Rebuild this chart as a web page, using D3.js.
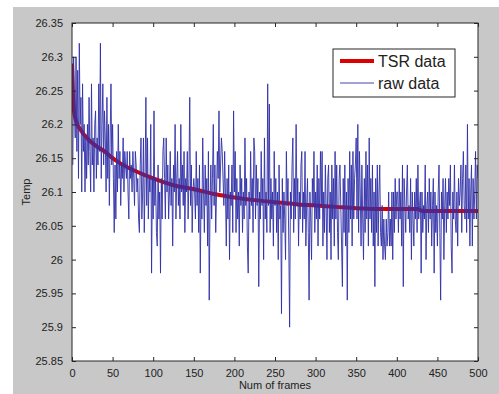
<!DOCTYPE html>
<html>
<head>
<meta charset="utf-8">
<script src="https://cdn.jsdelivr.net/npm/d3@7"></script>
<style>
  body { margin: 0; background: #fff; }
  svg { display: block; font-family: "Liberation Sans", Arial, sans-serif; }
</style>
</head>
<body>
<div id="chart"></div>
<script>
// raw sensor readings, one per frame (frames 1..500)
const rawData = [
  26.14, 26.30, 26.22, 26.18, 26.30, 26.16, 26.28, 26.12, 26.32, 26.20,
  26.24, 26.10, 26.26, 26.16, 26.20, 26.10, 26.18, 26.12, 26.20, 26.14,
  26.24, 26.16, 26.10, 26.26, 26.14, 26.18, 26.10, 26.20, 26.22, 26.12,
  26.18, 26.14, 26.26, 26.16, 26.32, 26.12, 26.20, 26.26, 26.14, 26.22,
  26.18, 26.10, 26.24, 26.12, 26.20, 26.08, 26.18, 26.26, 26.14, 26.20,
  26.12, 26.04, 26.14, 26.06, 26.16, 26.10, 26.20, 26.12, 26.16, 26.08,
  26.14, 26.12, 26.18, 26.10, 26.16, 26.14, 26.12, 26.16, 26.10, 26.06,
  26.16, 26.12, 26.14, 26.10, 26.16, 26.12, 26.08, 26.16, 26.14, 26.10,
  26.12, 26.06, 26.04, 26.14, 26.18, 26.06, 26.10, 26.18, 26.04, 26.12,
  26.24, 26.08, 26.18, 26.06, 26.12, 26.10, 26.20, 25.98, 26.12, 26.06,
  26.22, 26.08, 26.12, 26.04, 26.02, 26.14, 26.06, 26.10, 25.98, 26.12,
  26.06, 26.16, 26.18, 26.12, 26.06, 26.18, 26.10, 26.14, 26.06, 26.10,
  26.16, 26.08, 26.12, 26.02, 26.14, 26.10, 26.20, 26.06, 26.12, 26.16,
  26.08, 26.12, 26.06, 26.20, 26.10, 26.14, 26.08, 26.16, 26.04, 26.12,
  26.10, 26.16, 26.06, 26.12, 26.24, 26.08, 26.14, 26.04, 26.10, 26.12,
  26.10, 26.06, 26.16, 26.08, 26.12, 26.04, 26.14, 25.98, 26.10, 26.06,
  26.18, 26.10, 26.04, 26.14, 26.08, 26.12, 26.02, 26.16, 25.94, 26.08,
  26.14, 26.06, 26.12, 26.20, 26.08, 26.14, 26.04, 26.10, 26.16, 26.12,
  26.22, 26.10, 26.14, 26.18, 26.16, 26.12, 26.08, 26.16, 26.10, 26.02,
  26.12, 26.06, 26.14, 26.00, 26.10, 26.08, 26.14, 26.04, 26.22, 26.10,
  26.16, 26.04, 26.12, 26.06, 26.10, 26.02, 26.14, 26.08, 26.12, 26.04,
  26.10, 26.06, 26.18, 26.08, 26.12, 26.02, 25.98, 26.10, 26.06, 26.16,
  26.08, 26.12, 26.04, 26.18, 26.16, 26.06, 26.14, 26.08, 26.12, 25.96,
  26.10, 26.06, 26.16, 26.08, 26.12, 26.00, 26.18, 26.06, 26.10, 26.04,
  26.26, 26.08, 26.23, 26.04, 26.12, 26.06, 26.10, 26.02, 26.16, 26.08,
  26.12, 26.04, 26.10, 26.00, 26.14, 26.06, 26.08, 25.92, 26.12, 26.04,
  26.10, 26.06, 26.00, 26.16, 26.08, 26.12, 26.02, 25.90, 26.10, 26.06,
  26.14, 26.18, 26.04, 26.12, 26.06, 26.20, 26.08, 26.12, 26.02, 26.10,
  26.06, 26.14, 26.16, 26.04, 26.10, 26.06, 26.16, 26.02, 26.08, 26.12,
  26.04, 25.94, 26.10, 26.06, 26.00, 26.12, 26.08, 26.16, 26.04, 26.10,
  26.06, 26.14, 26.02, 26.12, 26.06, 26.16, 26.08, 26.16, 26.02, 26.10,
  26.04, 26.14, 26.08, 26.00, 26.12, 26.14, 26.04, 26.10, 26.00, 26.14,
  26.06, 26.12, 26.02, 26.16, 26.06, 26.14, 26.04, 26.00, 26.12, 26.14,
  26.08, 26.02, 25.96, 26.12, 26.04, 26.14, 26.02, 26.10, 25.94, 26.12,
  26.04, 26.16, 26.06, 26.14, 26.02, 26.16, 26.06, 26.12, 26.14, 26.18,
  26.06, 26.20, 26.04, 26.16, 26.10, 26.02, 26.14, 26.06, 26.00, 26.12,
  26.04, 26.16, 26.06, 26.14, 26.02, 26.18, 26.06, 26.12, 26.04, 26.14,
  26.02, 26.10, 25.96, 26.12, 26.04, 26.14, 26.02, 26.10, 26.14, 26.04,
  26.02, 26.08, 26.00, 26.06, 26.02, 26.00, 26.06, 26.02, 26.04, 26.10,
  26.02, 26.06, 26.02, 26.10, 26.00, 26.10, 26.04, 26.12, 26.06, 26.10,
  26.10, 26.04, 26.12, 26.06, 26.10, 26.02, 26.14, 25.96, 26.12, 26.08,
  26.04, 26.10, 26.14, 26.06, 26.08, 26.04, 26.12, 26.00, 26.10, 26.06,
  26.02, 26.10, 26.06, 26.12, 26.04, 26.14, 26.06, 26.08, 26.10, 25.98,
  26.10, 26.04, 26.08, 26.06, 26.14, 26.00, 26.08, 26.10, 26.04, 26.12,
  26.06, 26.10, 26.02, 26.08, 26.12, 25.98, 26.10, 26.04, 26.08, 26.02,
  26.10, 26.14, 26.04, 25.94, 26.10, 26.06, 26.12, 26.00, 26.08, 26.12,
  26.04, 26.10, 26.06, 26.12, 26.08, 26.14, 26.02, 25.98, 26.10, 26.06,
  26.14, 26.06, 26.04, 26.10, 26.02, 26.12, 26.08, 26.10, 26.14, 26.04,
  26.12, 26.16, 26.08, 26.06, 26.14, 26.04, 26.20, 26.06, 26.12, 26.02,
  26.10, 26.14, 26.02, 26.12, 26.06, 26.10, 26.16, 26.06, 26.14, 26.12
];

// smoothed (TSR) curve, read at a few frames
const tsrFrames = [0, 2, 5, 10, 20, 30, 40, 50, 60, 80, 100, 125, 150, 175, 200, 225, 250, 275, 300, 325, 350, 375, 400, 425, 432, 450, 500];
const tsrValues = [26.29, 26.225, 26.205, 26.193, 26.178, 26.168, 26.16, 26.15, 26.142, 26.13, 26.12, 26.11, 26.104, 26.097, 26.092, 26.088, 26.085, 26.082, 26.08, 26.078, 26.076, 26.075, 26.075, 26.075, 26.072, 26.072, 26.072];

const xTicks = [0, 50, 100, 150, 200, 250, 300, 350, 400, 450, 500];
const yTicks = [25.85, 25.9, 25.95, 26, 26.05, 26.1, 26.15, 26.2, 26.25, 26.3, 26.35];
const seriesNames = ['TSR data', 'raw data'];

const W = 499, H = 394;
const margin = { top: 23, right: 21, bottom: 33, left: 72 };
const width = W - margin.left - margin.right;
const height = H - margin.top - margin.bottom;

const svg = d3.select('#chart').append('svg')
  .attr('width', W)
  .attr('height', H);

// figure background
svg.append('rect')
  .attr('x', 13).attr('y', 7)
  .attr('width', W - 13).attr('height', H - 7)
  .attr('fill', '#c8c8c8');

const g = svg.append('g')
  .attr('transform', `translate(${margin.left},${margin.top})`);

const x = d3.scaleLinear().domain([0, 500]).range([0, width]);
const y = d3.scaleLinear().domain([25.85, 26.35]).range([height, 0]);

g.append('rect')
  .attr('width', width).attr('height', height)
  .attr('fill', '#fff');

g.append('defs').append('clipPath').attr('id', 'clip')
  .append('rect').attr('width', width).attr('height', height);

const plot = g.append('g').attr('clip-path', 'url(#clip)');

const tsr = tsrFrames.map((f, i) => [f, tsrValues[i]]);
plot.append('path')
  .datum(tsr)
  .attr('fill', 'none')
  .attr('stroke', '#dd0000')
  .attr('stroke-width', 4)
  .attr('stroke-linejoin', 'round')
  .attr('d', d3.line().x(d => x(d[0])).y(d => y(d[1])).curve(d3.curveMonotoneX));

const rawColor = '#3030a8';
plot.append('path')
  .datum(rawData)
  .attr('fill', 'none')
  .attr('stroke', rawColor)
  .attr('stroke-width', 0.9)
  .attr('d', d3.line().x((d, i) => x(i + 1)).y(d => y(d)));

// axes, MATLAB style: ticks inside on all four sides
const fmt = d => String(+d.toFixed(2));
const tickLen = 4;

const xb = g.append('g').attr('transform', `translate(0,${height})`)
  .call(d3.axisBottom(x).tickValues(xTicks).tickSizeInner(-tickLen).tickSizeOuter(0).tickPadding(8).tickFormat(fmt));
const xt = g.append('g')
  .call(d3.axisTop(x).tickValues(xTicks).tickSizeInner(-tickLen).tickSizeOuter(0).tickFormat(''));
const yl = g.append('g')
  .call(d3.axisLeft(y).tickValues(yTicks).tickSizeInner(-tickLen).tickSizeOuter(0).tickPadding(9).tickFormat(fmt));
const yr = g.append('g').attr('transform', `translate(${width},0)`)
  .call(d3.axisRight(y).tickValues(yTicks).tickSizeInner(-tickLen).tickSizeOuter(0).tickFormat(''));

[xb, xt, yl, yr].forEach(a => {
  a.select('.domain').remove();
  a.selectAll('line').attr('stroke', '#262626');
  a.selectAll('text').attr('fill', '#222').style('font-size', '11px').style('font-family', '"Liberation Sans", Arial, sans-serif');
});

g.append('rect')
  .attr('width', width).attr('height', height)
  .attr('fill', 'none')
  .attr('stroke', '#262626')
  .attr('stroke-width', 1);

svg.append('text')
  .attr('x', margin.left + width / 2)
  .attr('y', 389)
  .attr('text-anchor', 'middle')
  .attr('fill', '#222')
  .style('font-size', '11px')
  .text('Num of frames');

svg.append('text')
  .attr('transform', `translate(30,${margin.top + height / 2}) rotate(-90)`)
  .attr('text-anchor', 'middle')
  .attr('fill', '#222')
  .style('font-size', '11px')
  .text('Temp');

// legend
const leg = svg.append('g').attr('transform', 'translate(333,49)');
leg.append('rect')
  .attr('width', 122).attr('height', 48)
  .attr('fill', '#fff')
  .attr('stroke', '#262626');
const legColors = ['#dd0000', rawColor];
const legWidths = [4, 0.9];
seriesNames.forEach((name, i) => {
  const ly = 12 + i * 22;
  leg.append('line')
    .attr('x1', 7).attr('x2', 41)
    .attr('y1', ly).attr('y2', ly)
    .attr('stroke', legColors[i])
    .attr('stroke-width', legWidths[i]);
  leg.append('text')
    .attr('x', 45).attr('y', ly + 6)
    .attr('fill', '#222')
    .style('font-size', '16px')
    .text(name);
});
</script>
</body>
</html>
